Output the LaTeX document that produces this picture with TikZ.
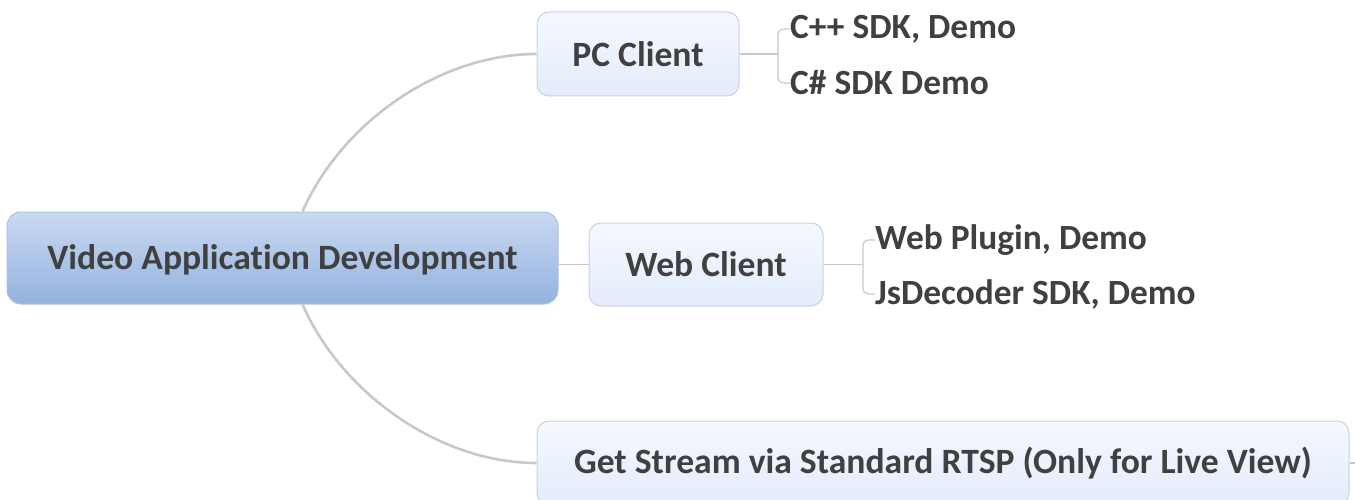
\documentclass[tikz,border=0pt]{standalone}
\usepackage{fontspec}
\setmainfont{Carlito}[Ligatures=NoCommon]
\usepackage{tikz}
\definecolor{textGray}{HTML}{404040}
\definecolor{lineGray}{HTML}{C8C8C8}
\definecolor{rootTop}{HTML}{C9D9F1}
\definecolor{rootMid}{HTML}{A0BBE2}
\definecolor{rootBot}{HTML}{94B2DE}
\definecolor{rootEdge}{HTML}{AFC2DE}
\definecolor{topicTop}{HTML}{F5F8FE}
\definecolor{topicBot}{HTML}{E3ECFB}
\definecolor{topicEdge}{HTML}{C9D2DF}
\tikzset{
  rootbox/.style={draw=rootEdge, line width=1pt, rounded corners=14pt,
    top color=rootTop, middle color=rootMid, bottom color=rootBot, text depth=2pt,
    text=textGray, font=\fontsize{35.6}{42}\selectfont\bfseries},
  topicbox/.style={draw=topicEdge, line width=1pt, rounded corners=12pt,
    top color=topicTop, bottom color=topicBot,
    text=textGray, font=\fontsize{35.6}{42}\selectfont\bfseries},
  leaf/.style={anchor=west, inner sep=0pt, text=textGray, yshift=-2pt,
    font=\fontsize{35.4}{42}\selectfont\bfseries},
  mainlink/.style={draw=lineGray, line width=2.6pt},
  sublink/.style={draw=lineGray, line width=1.2pt, rounded corners=5pt}
}

\begin{document}
\begin{tikzpicture}[x=1pt, y=-1pt]
        \useasboundingbox (0,0) rectangle (1355,500);

        % topics
        \node[rootbox, minimum width=551pt, minimum height=92pt]  (root) at (282.5,258)  {Video Application Development};
        \node[topicbox, minimum width=202pt, minimum height=84pt] (pc)   at (638,54)     {PC Client};
        \node[topicbox, minimum width=234pt, minimum height=83pt] (web)  at (706,264.5)  {Web Client};
        \node[topicbox, minimum width=812pt, minimum height=84pt] (rtsp) at (943,463)    {Get Stream via Standard RTSP (Only for Live View)};

        % subtopics
        \node[leaf] (cpp)    at (790,27)  {C++ SDK, Demo};
        \node[leaf] (csharp) at (790,81)  {C\# SDK Demo};
        \node[leaf] (plugin) at (875,238) {Web Plugin, Demo};
        \node[leaf] (jsdec)  at (875,292) {JsDecoder SDK, Demo};

        \coordinate (pcfork)  at (778,54);
        \coordinate (webfork) at (863,264.5);
        \coordinate (rtspout) at (1362,463);

        % main branches
        \draw[mainlink] ([xshift=20pt]root.north) .. controls (342,122) and (440,54) .. (pc.west);
        \draw[mainlink] ([xshift=20pt]root.south) .. controls (342,394) and (440,463) .. (rtsp.west);
        \draw[draw=lineGray, line width=1.6pt] (web.west -| root.east) -- (web.west);
        \draw[draw=lineGray, line width=1.6pt] (rtsp.east) -- (rtspout);

        % brackets
        \draw[sublink] (pc.east) -- (pcfork);
        \draw[sublink] (cpp.west) -- ++(-12,0) -- ([xshift=-12pt]csharp.west) -- (csharp.west);
        \draw[sublink] (web.east) -- (webfork);
        \draw[sublink] (plugin.west) -- ++(-12,0) -- ([xshift=-12pt]jsdec.west) -- (jsdec.west);
    \end{tikzpicture}
\end{document}
